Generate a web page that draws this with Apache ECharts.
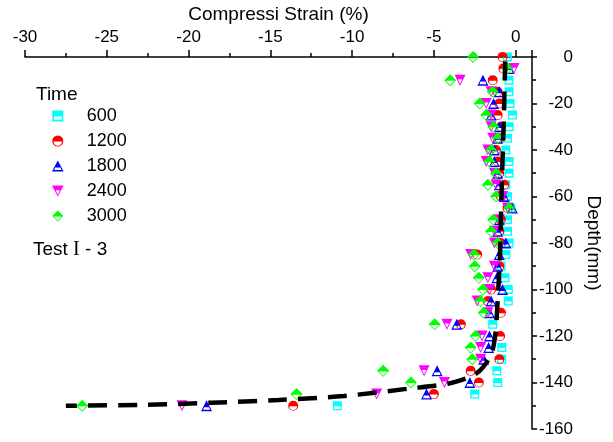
<!DOCTYPE html>
<html>
<head>
<meta charset="utf-8">
<title>Compressi Strain</title>
<script src="https://cdn.jsdelivr.net/npm/echarts@6/dist/echarts.min.js"></script>
<style>
  html, body { margin: 0; padding: 0; background: #fff; }
  #chart { width: 613px; height: 442px; }
</style>
</head>
<body>
<div id="chart"></div>
<script>
// depth levels (mm), shared by all time series
const depths = [0, -5, -10, -15, -20, -25, -30, -35, -40, -45, -50, -55, -60, -65, -70, -75,
  -80, -85, -90, -95, -100, -105, -110, -115, -120, -125, -130, -135, -140, -145, -150]

// strain (%), null = no visible point
const strain600 = [-0.5, null, -0.4, -0.4, -0.35, -0.2, -0.4, -0.5, -0.6, -0.4, -0.4, -0.6, -0.5, -0.3, -0.5, -0.5,
  -0.4, -0.6, -0.9, -0.65, -0.45, -0.45, null, -1.4, null, -0.85, -0.85, -1.15, -1.1, -2.5, -10.9]
const strain1200 = [-0.8, -0.75, -1.4, -1.1, -1.0, -1.1, -0.9, -1.0, -1.2, -1.1, -1.0, -0.7, -0.9, -0.5, -0.9, -1.0,
  -0.9, -2.35, -1.0, null, -1.5, -1.7, -0.9, -3.35, -0.95, null, -1.0, -2.75, -2.25, -5.0, -13.6]
const strain1800 = [null, -0.4, -2.0, -1.0, -1.35, -1.5, -1.0, -1.1, -1.3, -1.3, -1.1, -1.0, -0.7, -0.2, -1.0, -1.1,
  -0.6, -1.0, -1.1, -1.15, -0.8, -1.5, -1.6, -3.6, -1.6, -1.65, -1.95, -4.8, -2.8, -5.45, -18.9]
const strain2400 = [null, -0.1, -3.4, -1.5, -1.8, -1.5, -1.5, -1.4, -1.7, -1.8, -1.3, -1.2, -0.8, -0.5, -1.0, -1.3,
  -1.3, -2.75, -1.3, -1.7, -1.6, -2.35, -1.7, -4.2, -2.05, -2.14, -2.14, -5.6, -4.35, -8.5, -20.4]
const strain3000 = [-2.6, -0.5, -4.0, -1.4, -2.2, -1.8, -1.35, -1.1, -1.5, -1.6, -1.2, -1.7, -1.2, -0.4, -1.37, -1.5,
  -1.1, -2.55, -2.5, -2.25, -2.0, -2.15, -1.95, -4.95, -2.45, -2.75, -2.65, -8.1, -6.4, -13.4, -26.5]

// dashed trend curve
const fitStrain = [-0.64, -0.7, -0.78, -0.85, -0.92, -0.97, -1.08, -1.16, -1.24, -1.45, -2.0, -2.6, -4.0,
  -6.5, -10.5, -14.5, -18.6, -22.6, -27.5]
const fitDepth = [-2, -20, -40, -55, -75, -88, -102, -112, -119, -127, -133.5, -137, -140.3,
  -142.6, -145.8, -147.5, -148.7, -149.6, -150]

const timeNames = ['600', '1200', '1800', '2400', '3000']

const FONT = 'Liberation Sans, Arial, sans-serif'

// half filled markers (filled top, hollow bottom)
const SYM_SQUARE = 'path://M0 0L20 0L20 20L0 20Z M3 11L3 17L17 17L17 11Z'
const SYM_CIRCLE = 'path://M0 10A10 10 0 1 1 20 10A10 10 0 1 1 0 10Z M2.4 11A7.6 7.6 0 0 0 17.6 11Z'
const SYM_UP = 'path://M10 0L20 19L0 19Z M5.6 12L3.6 16.6L16.4 16.6L14.4 12Z'
const SYM_DOWN = 'path://M0 0L20 0L10 19Z M6.2 8L10 15.5L13.8 8Z'
const SYM_DIAMOND = 'path://M10 0L20 10L10 20L0 10Z M3 11L10 18L17 11Z'

const pairs = (vals) => depths.map((d, i) => [vals[i], d]).filter(p => p[0] !== null)

const scatter = (name, vals, symbol, size, color) => ({
  name: name,
  type: 'scatter',
  data: pairs(vals),
  symbol: symbol,
  symbolSize: size,
  itemStyle: { color: color, opacity: 1 },
  clip: false
})

const chart = echarts.init(document.getElementById('chart'))

const option = {
  backgroundColor: '#fff',
  animation: false,
  textStyle: { fontFamily: FONT },
  grid: { left: 25, right: 81, top: 56, bottom: 13 },
  legend: {
    orient: 'vertical',
    left: 47,
    top: 101,
    itemWidth: 48,
    itemHeight: 11,
    itemGap: 5,
    selectedMode: false,
    data: timeNames,
    textStyle: { fontSize: 18, lineHeight: 20, color: '#000', fontFamily: FONT }
  },
  graphic: [
    {
      type: 'text', left: 36, top: 85,
      style: { text: 'Time', fontSize: 19, fontFamily: FONT, fill: '#000' }
    },
    {
      type: 'text', left: 33, top: 240,
      style: {
        text: '{a|Test }{b|I}{a| - 3}',
        rich: {
          a: { fontSize: 19, fontFamily: FONT, fill: '#000' },
          b: { fontSize: 20, fontFamily: 'Liberation Serif, serif', fill: '#000' }
        }
      }
    }
  ],
  xAxis: {
    type: 'value',
    position: 'top',
    min: -30,
    max: 1,
    interval: 5,
    name: 'Compressi Strain (%)',
    nameLocation: 'middle',
    nameGap: 27,
    nameTextStyle: { fontSize: 19, color: '#000', fontFamily: FONT },
    axisLine: { show: true, onZero: false, lineStyle: { color: '#000', width: 1.5 } },
    axisTick: { show: true, length: 7, lineStyle: { color: '#000', width: 1.5 } },
    minorTick: { show: true, splitNumber: 2, length: 4, lineStyle: { color: '#000', width: 1.5 } },
    axisLabel: { fontSize: 17, color: '#000', margin: 11, showMaxLabel: false, fontFamily: FONT },
    splitLine: { show: false }
  },
  yAxis: {
    type: 'value',
    position: 'right',
    min: -160,
    max: 0,
    interval: 20,
    name: 'Depth(mm)',
    nameLocation: 'middle',
    nameGap: 48,
    nameRotate: -90,
    nameTextStyle: { fontSize: 19, color: '#000', fontFamily: FONT },
    axisLine: { show: true, onZero: false, lineStyle: { color: '#000', width: 1.5 } },
    axisTick: { show: true, length: 5, lineStyle: { color: '#000', width: 1.5 } },
    minorTick: { show: true, splitNumber: 2, length: 4, lineStyle: { color: '#000', width: 1.5 } },
    axisLabel: { fontSize: 17, color: '#000', margin: 41, align: 'right', fontFamily: FONT },
    splitLine: { show: false }
  },
  series: [
    scatter('600', strain600, SYM_SQUARE, 9, '#00FFFF'),
    scatter('1200', strain1200, SYM_CIRCLE, 10, '#FF0000'),
    scatter('1800', strain1800, SYM_UP, 11, '#0000FF'),
    scatter('2400', strain2400, SYM_DOWN, 11, '#FF00FF'),
    scatter('3000', strain3000, SYM_DIAMOND, 12, '#00FF00'),
    {
      name: 'fit',
      type: 'line',
      data: fitStrain.map((x, i) => [x, fitDepth[i]]),
      showSymbol: false,
      smooth: 0.3,
      lineStyle: { color: '#000', width: 4.5, type: [19, 11] },
      z: 5
    }
  ]
}

chart.setOption(option)
</script>
</body>
</html>
